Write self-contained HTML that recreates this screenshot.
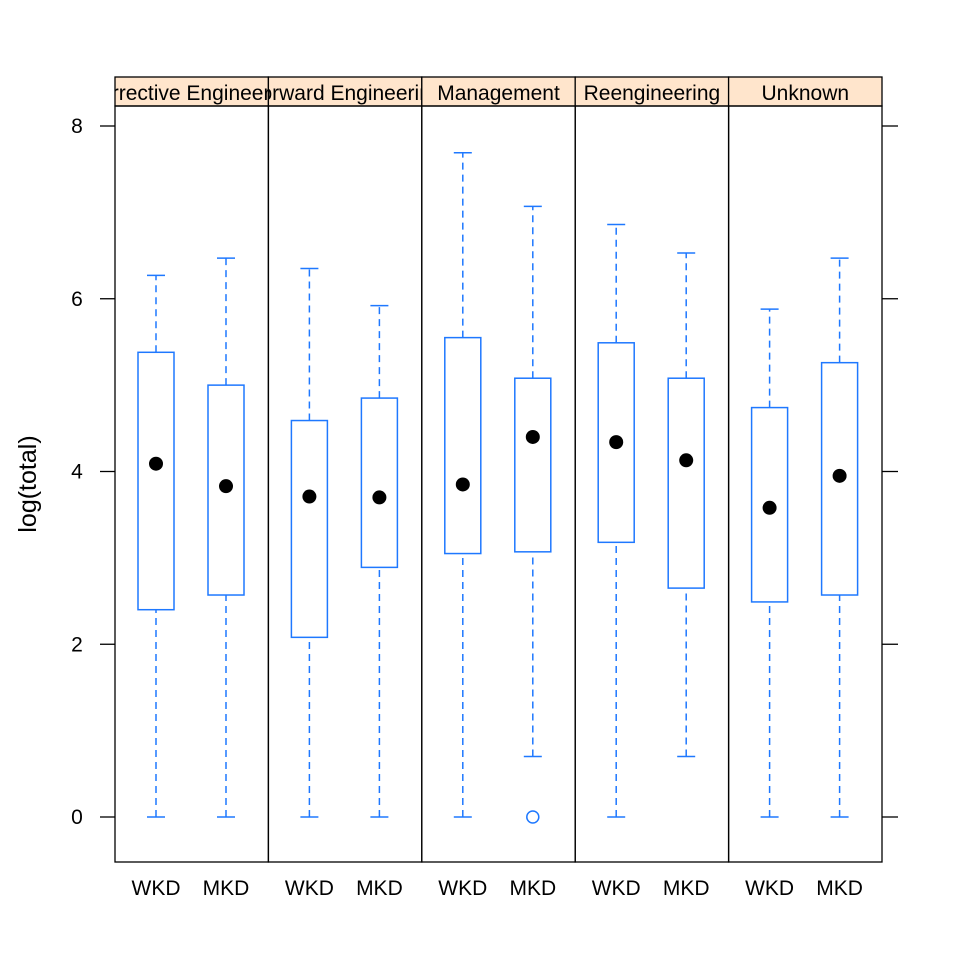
<!DOCTYPE html>
<html><head><meta charset="utf-8"><style>body{margin:0;background:#fff}svg{display:block}text{font-family:"Liberation Sans",sans-serif}</style></head>
<body>
<svg id="c" width="960" height="960"></svg>
<script>
const panels=["Corrective Engineering","Forward Engineering","Management","Reengineering","Unknown"];
const groups=["WKD","MKD"];
// [low, q1, median, q3, high] per panel per group
const wkd=[[0,2.4,4.09,5.38,6.27],[0,2.08,3.71,4.59,6.35],[0,3.05,3.85,5.55,7.69],[0,3.18,4.34,5.49,6.86],[0,2.49,3.58,4.74,5.88]];
const mkd=[[0,2.57,3.83,5.0,6.47],[0,2.89,3.70,4.85,5.92],[0.7,3.07,4.40,5.08,7.07],[0.7,2.65,4.13,5.08,6.53],[0,2.57,3.95,5.26,6.47]];
const outliers=[[],[],[[1,0]],[],[]];
const yTicks=[0,2,4,6,8];
const NS="http://www.w3.org/2000/svg",svg=document.getElementById('c');
function el(t,a,p){const e=document.createElementNS(NS,t);for(const k in a)e.setAttribute(k,a[k]);(p||svg).appendChild(e);return e;}
const L=115,R=882,T=106,B=862,pw=(R-L)/5;
const y=v=>817-v*86.375;
const blue="#1e78ff";
for(let i=0;i<5;i++){
  const x0=L+i*pw;
  const g=el('g',{});
  const cp=el('clipPath',{id:'cp'+i},g);el('rect',{x:x0,y:77,width:pw,height:29},cp);
  const s=el('rect',{x:x0,y:77,width:pw,height:29,fill:'#ffe5cc',stroke:'#000','stroke-width':1.3},g);
  
  const t=el('text',{x:x0+pw/2,y:100,'font-size':21,'text-anchor':'middle','clip-path':'url(#cp'+i+')'},g);t.textContent=panels[i];
  
  el('rect',{x:x0,y:T,width:pw,height:B-T,fill:'none',stroke:'#000','stroke-width':1.3},g);
  [wkd[i],mkd[i]].forEach((d,j)=>{
    const cx=x0+(j==0?41:111);
    const b=el('g',{},g);
    el('line',{x1:cx,x2:cx,y1:y(d[0]),y2:y(d[1]),stroke:blue,'stroke-width':1.5,'stroke-dasharray':'7,5'},b);
    el('line',{x1:cx,x2:cx,y1:y(d[3]),y2:y(d[4]),stroke:blue,'stroke-width':1.5,'stroke-dasharray':'7,5'},b);
    el('line',{x1:cx-9,x2:cx+9,y1:y(d[0]),y2:y(d[0]),stroke:blue,'stroke-width':1.5},b);
    el('line',{x1:cx-9,x2:cx+9,y1:y(d[4]),y2:y(d[4]),stroke:blue,'stroke-width':1.5},b);
    el('rect',{x:cx-18,y:y(d[3]),width:36,height:y(d[1])-y(d[3]),fill:'none',stroke:blue,'stroke-width':1.5},b);
    el('circle',{cx:cx,cy:y(d[2]),r:7,fill:'#000'},b);
    const lab=el('text',{x:cx,y:895,'font-size':21,'text-anchor':'middle'},svg);lab.textContent=groups[j];
    
  });
  outliers[i].forEach(o=>{const cx=x0+(o[0]==0?41:111);const c=el('circle',{cx:cx,cy:y(o[1]),r:6,fill:'none',stroke:blue,'stroke-width':1.5},g);});
}
yTicks.forEach(v=>{
  el('line',{x1:100,x2:L,y1:y(v),y2:y(v),stroke:'#000','stroke-width':1.3});
  el('line',{x1:R,x2:898,y1:y(v),y2:y(v),stroke:'#000','stroke-width':1.3});
  const t=el('text',{x:77,y:y(v)+7,'font-size':21,'text-anchor':'middle'});t.textContent=v;
  
});
const yt=el('text',{x:0,y:0,'font-size':25,'text-anchor':'middle',transform:'translate(36,484) rotate(-90)'});yt.textContent='log(total)';

</script>
</body></html>
